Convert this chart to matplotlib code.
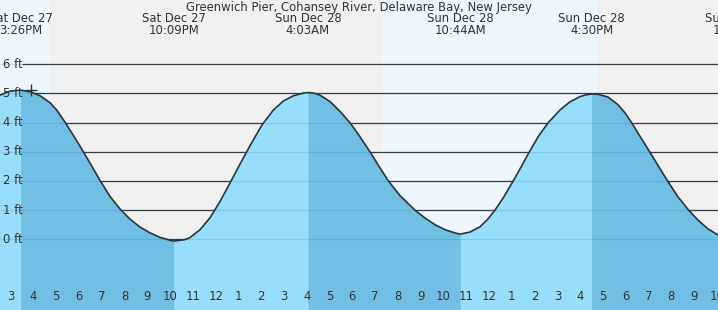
import matplotlib
matplotlib.use("Agg")

import matplotlib.pyplot as plt
from matplotlib.transforms import blended_transform_factory

# Tide data: hours since Sat Dec 27 00:00, height in feet

tide_hours = [14.53, 14.97, 15.43, 15.85, 16.29, 16.73, 17.03, 17.38, 17.80, 18.19,
              18.55, 18.92, 19.36, 19.80, 20.24, 20.68, 21.12, 21.55, 21.99, 22.15,
              22.65, 22.87, 23.31, 23.75, 24.19, 24.62, 25.06, 25.50, 25.94, 26.06,
              26.53, 26.97, 27.41, 27.84, 28.05, 28.30, 28.58, 29.02, 29.46, 29.89,
              30.33, 30.77, 31.17, 31.58, 32.09, 32.75, 33.19, 33.63, 34.07, 34.50,
              34.73, 35.16, 35.60, 35.93, 36.26, 36.66, 37.06, 37.42, 37.77, 38.19,
              38.60, 39.11, 39.55, 39.99, 40.25, 40.50, 40.78, 41.21, 41.65, 41.95,
              42.24, 42.65, 43.05, 43.44, 43.82, 44.29, 44.76, 45.17, 45.61, 46.05]

tide_feet = [4.94, 5.08, 5.11, 5.06, 4.92, 4.68, 4.42, 4.02, 3.50, 3.00,
             2.52, 2.02, 1.47, 1.04, 0.69, 0.42, 0.22, 0.07, -0.03, -0.06,
             -0.01, 0.06, 0.33, 0.74, 1.30, 1.92, 2.57, 3.20, 3.80, 3.95,
             4.43, 4.74, 4.92, 5.01, 5.03, 5.01, 4.94, 4.72, 4.38, 4.00,
             3.52, 3.00, 2.50, 2.00, 1.50, 1.00, 0.73, 0.50, 0.33, 0.22,
             0.18, 0.25, 0.43, 0.68, 1.00, 1.47, 2.00, 2.50, 3.00, 3.56,
             4.00, 4.43, 4.71, 4.89, 4.95, 4.98, 4.97, 4.88, 4.62, 4.35,
             4.02, 3.50, 3.00, 2.50, 2.02, 1.46, 1.00, 0.66, 0.36, 0.15]

# high / low events
event_hours = [15.43, 22.15, 28.05, 34.73, 40.50, 46.93]
event_days = ["Sat Dec 27", "Sat Dec 27", "Sun Dec 28", "Sun Dec 28", "Sun Dec 28", "Sun Dec 28"]
event_times = ["3:26PM", "10:09PM", "4:03AM", "10:44AM", "4:30PM", "10:56PM"]

# falling tide stretches (high -> low)
falling = [(15.43, 22.15), (28.05, 34.73), (40.50, 46.05)]

# night (sunset -> sunrise)
night = [(16.72, 31.33), (40.75, 46.05)]

feet_levels = [0, 1, 2, 3, 4, 5, 6]
hour_ticks = list(range(15, 47))
hour_labels = ["3", "4", "5", "6", "7", "8", "9", "10", "11", "12", "1", "2", "3", "4", "5", "6",
               "7", "8", "9", "10", "11", "12", "1", "2", "3", "4", "5", "6", "7", "8", "9", "10"]

now_hour = 15.89
now_feet = 5.12

title = "Greenwich Pier, Cohansey River, Delaware Bay, New Jersey"

day_color = "#eef7ff"
night_color = "#f0f0f0"
rise_color = "#97ddfc"
fall_color = "#71bfe4"
ink = "#333333"
fs = 8.4

fig = plt.figure(figsize=(7.18, 3.10), dpi=100)
fig.patch.set_facecolor(day_color)
ax = fig.add_axes([0, 0, 1, 1])
ax.set_facecolor(day_color)

ax.set_xlim(14.53, 46.05)
ax.set_ylim(-2.42, 8.2)

for a, b in night:
    ax.axvspan(a, b, color=night_color, lw=0, zorder=0)

# grid lines (behind water)
ax.hlines(feet_levels, 15.5, 46.05, color=ink, lw=0.9, zorder=1)

# water
ax.fill_between(tide_hours, tide_feet, -2.42, color=rise_color, lw=0, zorder=2)
for a, b in falling:
    mask = [a <= t <= b for t in tide_hours]
    ax.fill_between(tide_hours, tide_feet, -2.42, where=mask, color=fall_color, lw=0, zorder=2)

# grid lines seen through the water
ax.hlines(feet_levels, 14.53, 46.05, color="#2a7fb0", lw=0.9, alpha=0.22, zorder=3)

ax.plot(tide_hours, tide_feet, color=ink, lw=1.2, zorder=4, solid_joinstyle="round")
ax.plot([now_hour], [now_feet], marker="+", color=ink, markersize=8, mew=1, zorder=5)

# labels
for f in feet_levels:
    ax.text(0.004, f, str(f) + " ft", transform=blended_transform_factory(ax.transAxes, ax.transData),
            ha="left", va="center", fontsize=fs, color=ink, zorder=6)

tb = blended_transform_factory(ax.transData, ax.transAxes)
for h, d, t in zip(event_hours, event_days, event_times):
    ax.text(h, 0.939, d, transform=tb, ha="center", va="center", fontsize=fs, color=ink, zorder=6)
    ax.text(h, 0.900, t, transform=tb, ha="center", va="center", fontsize=fs, color=ink, zorder=6)

ax.text(0.5, 0.977, title, transform=ax.transAxes, ha="center", va="center",
        fontsize=fs, color=ink, zorder=6)

for h, lab in zip(hour_ticks, hour_labels):
    ax.text(h, 0.045, lab, transform=tb, ha="center", va="center", fontsize=fs, color=ink, zorder=6)

ax.set_xticks(hour_ticks)
ax.set_xticklabels([])
ax.set_yticks([])
ax.tick_params(axis="x", direction="in", length=6, width=1, color=ink)
for tick, h in zip(ax.xaxis.get_major_ticks(), hour_ticks):
    tick.tick1line.set_zorder(6)
    if h == 24:
        tick.tick1line.set_markeredgewidth(3)

for s in ax.spines.values():
    s.set_visible(False)

plt.savefig("out.png", dpi=100, facecolor=fig.get_facecolor())
